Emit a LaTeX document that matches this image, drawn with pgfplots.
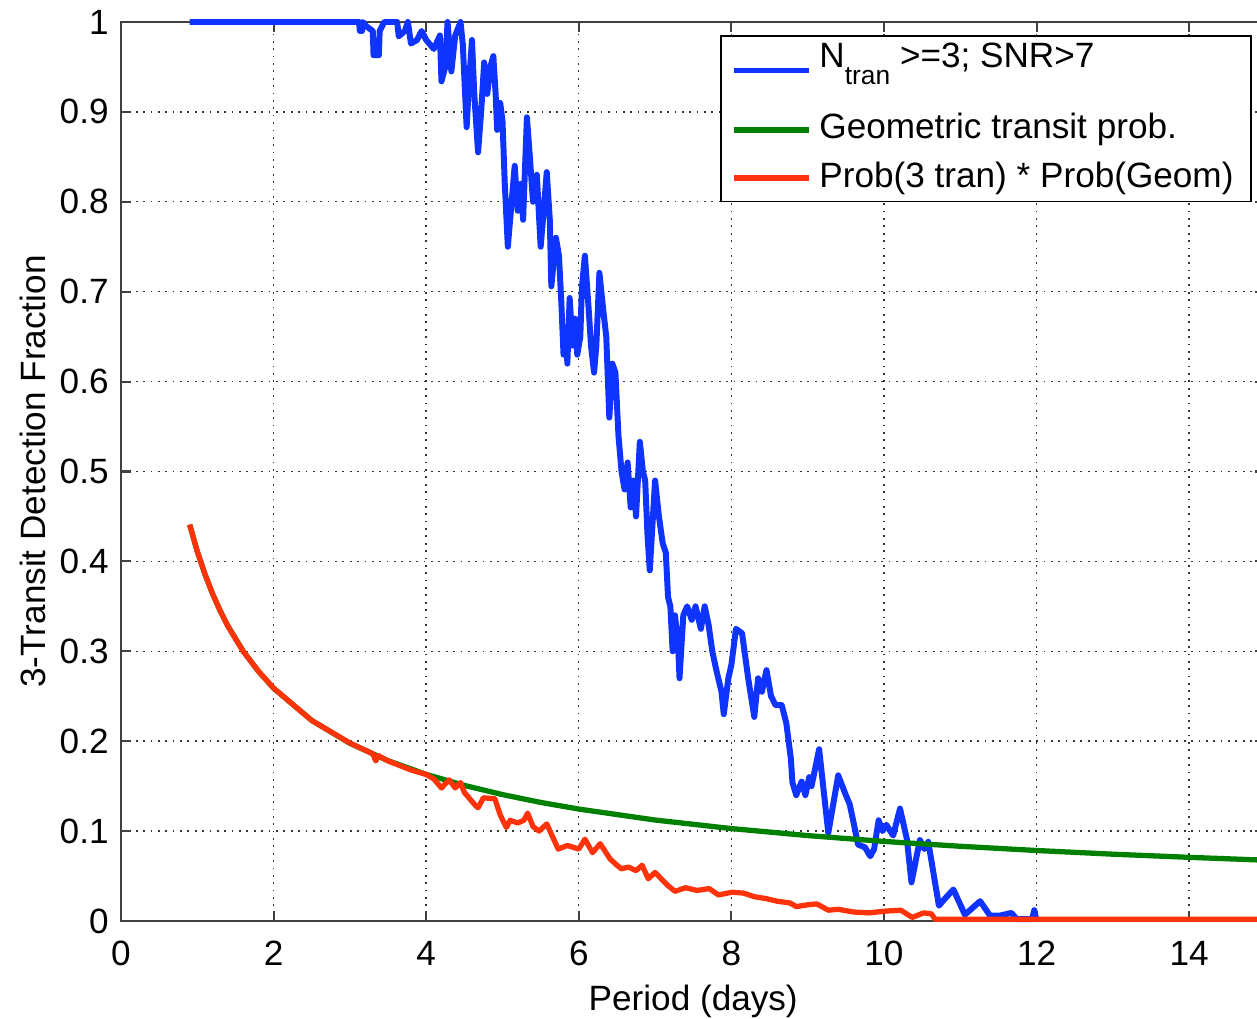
\documentclass[border=0pt]{standalone}
\usepackage{pgfplots}
\pgfplotsset{compat=1.18}
\usepackage{fontspec}
\setmainfont{Liberation Sans}

\definecolor{mblue}{RGB}{16,52,255}
\definecolor{mgreen}{RGB}{0,128,0}
\definecolor{mred}{RGB}{255,51,10}

\begin{document}
\begin{tikzpicture}
\begin{axis}[
    name=ax,
    scale only axis,
    width=11.445cm, height=8.99cm,
    xmin=0, xmax=15, ymin=0, ymax=1,
    xtick={0,2,4,6,8,10,12,14},
    ytick={0,0.1,0.2,0.3,0.4,0.5,0.6,0.7,0.8,0.9,1},
    /pgf/number format/assume math mode=true,
    tick label style={font=\fontsize{10}{12}\selectfont},
    xticklabel style={yshift=-0.8mm},
    label style={font=\fontsize{10}{12}\selectfont},
    xlabel={Period (days)},
    ylabel={3-Transit Detection Fraction},
    every axis x label/.style={at={(rel axis cs:0.5,0)}, yshift=-0.80cm, anchor=center},
    every axis y label/.style={at={(rel axis cs:0,0.5)}, xshift=-0.88cm, rotate=90, anchor=center},
    grid=major,
    major grid style={black!80, dash pattern=on 0.5pt off 1.6pt},
    axis line style={black!75, line width=0.6pt},
    tick style={black!75, line width=0.6pt},
    major tick length=1mm,
    tick align=inside,
    clip=false,
    every axis plot/.append style={line join=round},
    legend cell align=left,
    legend image code/.code={\draw[#1] (0cm,0cm) -- (0.75cm,0cm);},
    legend style={
        at={(rel axis cs:0.9882,0.9855)}, anchor=north east,
        draw=black, line width=0.5pt,
        font=\fontsize{10}{12}\selectfont,
        inner xsep=3pt, inner ysep=0pt,
        nodes={inner sep=2pt, text depth=},
        row sep=0.4pt,
    },
]
% N_tran >= 3, SNR > 7
\addplot[mblue, line width=1.7pt] coordinates {
(0.90,1.000) (3.12,1.000) (3.13,0.990) (3.16,0.990) (3.17,1.000) (3.22,0.995)
(3.30,0.990) (3.31,0.963) (3.38,0.963) (3.39,0.990) (3.45,1.000) (3.62,1.000)
(3.64,0.984) (3.72,0.990) (3.76,1.000) (3.80,0.976) (3.88,0.980) (3.94,0.990)
(4.00,0.980) (4.10,0.970) (4.18,0.985) (4.20,0.934) (4.25,0.950) (4.28,1.000)
(4.33,0.945) (4.38,0.985) (4.45,1.000) (4.48,0.975) (4.53,0.883) (4.56,0.930)
(4.60,0.980) (4.63,0.920) (4.68,0.855) (4.72,0.900) (4.76,0.955) (4.80,0.920)
(4.84,0.950) (4.88,0.962) (4.91,0.920) (4.93,0.880) (4.97,0.910) (5.00,0.890)
(5.03,0.820) (5.07,0.750) (5.10,0.780) (5.16,0.840) (5.20,0.790) (5.24,0.820)
(5.27,0.780) (5.32,0.894) (5.35,0.860) (5.40,0.800) (5.45,0.830) (5.50,0.750)
(5.54,0.790) (5.58,0.833) (5.62,0.780) (5.64,0.706) (5.70,0.760) (5.74,0.740)
(5.77,0.690) (5.80,0.630) (5.83,0.660) (5.85,0.620) (5.88,0.693) (5.92,0.640)
(5.95,0.670) (5.98,0.630) (6.02,0.650) (6.04,0.704) (6.08,0.740) (6.13,0.680)
(6.16,0.640) (6.20,0.610) (6.23,0.640) (6.27,0.721) (6.32,0.680) (6.36,0.650)
(6.40,0.560) (6.44,0.620) (6.48,0.610) (6.52,0.540) (6.56,0.500) (6.60,0.480)
(6.64,0.510) (6.68,0.460) (6.72,0.490) (6.75,0.450) (6.80,0.533) (6.84,0.500)
(6.87,0.490) (6.90,0.430) (6.93,0.390) (7.00,0.490) (7.05,0.450) (7.10,0.420)
(7.14,0.410) (7.17,0.360) (7.20,0.350) (7.23,0.300) (7.26,0.340) (7.30,0.310)
(7.32,0.270) (7.37,0.340) (7.42,0.350) (7.48,0.335) (7.53,0.350) (7.60,0.325)
(7.65,0.350) (7.70,0.330) (7.75,0.300) (7.80,0.280) (7.87,0.255) (7.90,0.230)
(7.96,0.270) (8.00,0.285) (8.06,0.325) (8.14,0.320) (8.22,0.270) (8.30,0.227)
(8.35,0.270) (8.40,0.255) (8.46,0.279) (8.52,0.250) (8.58,0.240) (8.66,0.240)
(8.72,0.220) (8.78,0.180) (8.80,0.154) (8.85,0.140) (8.92,0.155) (8.97,0.140)
(9.02,0.160) (9.05,0.150) (9.15,0.191) (9.27,0.098) (9.40,0.162) (9.50,0.140)
(9.55,0.130) (9.60,0.110) (9.66,0.085) (9.75,0.082) (9.82,0.072) (9.87,0.080)
(9.93,0.112) (9.98,0.100) (10.03,0.107) (10.12,0.095) (10.21,0.125) (10.30,0.091)
(10.36,0.043) (10.47,0.090) (10.53,0.080) (10.58,0.088) (10.72,0.017) (10.80,0.025)
(10.91,0.035) (11.06,0.007) (11.26,0.022) (11.39,0.006) (11.52,0.006) (11.67,0.009)
(11.74,0.002) (11.94,0.002) (11.97,0.012) (12.00,0.000)
};
\addlegendentry{N\raisebox{-0.9ex}{\fontsize{7.5}{8}\selectfont tran} >=3; SNR>7\rule[-8.7pt]{0pt}{0pt}}

% geometric transit probability
\addplot[mgreen, line width=1.5pt] coordinates {
(0.90,0.4409) (1.00,0.4110) (1.10,0.3857) (1.20,0.3640) (1.30,0.3451) (1.40,0.3284)
(1.60,0.3004) (1.80,0.2778) (2.00,0.2589) (2.50,0.2231) (3.00,0.1976) (3.50,0.1783)
(4.00,0.1631) (4.50,0.1508) (5.00,0.1406) (5.50,0.1319) (6.00,0.1245) (7.00,0.1123)
(8.00,0.1028) (9.00,0.0950) (10.00,0.0885) (11.00,0.0831) (12.00,0.0784)
(13.00,0.0743) (14.00,0.0708) (15.00,0.0676)
};
\addlegendentry{Geometric transit prob.}

% Prob(3 tran) * Prob(Geom)
\addplot[mred, line width=1.5pt] coordinates {
(0.90,0.441) (1.00,0.411) (1.10,0.386) (1.20,0.364) (1.30,0.345) (1.40,0.328)
(1.60,0.300) (1.80,0.278) (2.00,0.259) (2.50,0.223) (3.00,0.198) (3.30,0.186)
(3.34,0.178) (3.37,0.184) (3.50,0.178) (3.80,0.168) (4.00,0.163) (4.10,0.158)
(4.20,0.148) (4.30,0.157) (4.38,0.148) (4.45,0.154) (4.50,0.143) (4.58,0.135)
(4.65,0.128) (4.68,0.126) (4.75,0.137) (4.90,0.136) (4.97,0.118) (5.05,0.104)
(5.10,0.112) (5.20,0.109) (5.28,0.112) (5.33,0.120) (5.40,0.105) (5.48,0.100)
(5.58,0.108) (5.66,0.093) (5.73,0.080) (5.85,0.084) (6.00,0.080) (6.08,0.091)
(6.18,0.076) (6.28,0.086) (6.41,0.069) (6.50,0.062) (6.56,0.058) (6.65,0.060)
(6.75,0.056) (6.83,0.062) (6.91,0.047) (7.00,0.054) (7.16,0.040) (7.26,0.033)
(7.40,0.037) (7.55,0.034) (7.71,0.036) (7.83,0.029) (8.01,0.032) (8.16,0.031)
(8.30,0.027) (8.45,0.025) (8.60,0.022) (8.77,0.020) (8.85,0.016) (9.00,0.018)
(9.12,0.019) (9.27,0.012) (9.40,0.013) (9.60,0.010) (9.80,0.009) (10.02,0.011)
(10.22,0.012) (10.37,0.004) (10.52,0.009) (10.62,0.008) (10.67,0.002) (15.00,0.002)
};
\addlegendentry{Prob(3 tran) * Prob(Geom)}
\end{axis}
\pgfresetboundingbox
\path ([xshift=-1.21cm,yshift=-0.98cm]ax.south west) rectangle ([xshift=11.36cm,yshift=9.21cm]ax.south west);
\end{tikzpicture}
\end{document}
